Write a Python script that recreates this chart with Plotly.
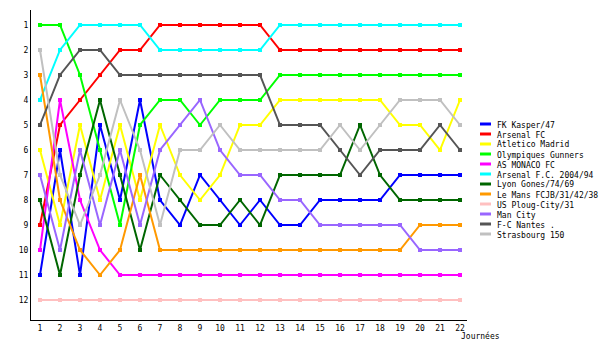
import plotly.graph_objects as go

rounds = list(range(1, 23))
teams = ["FK Kasper/47", "Arsenal FC", "Atletico Madrid", "Olympiques Gunners",
         "AS MONACO FC", "Arsenal F.C. 2004/94", "Lyon Gones/74/69",
         "Le Mans FCJB/31/42/38", "US Ploug-City/31", "Man City", "F-C Nantes .",
         "Strasbourg 150"]
colors = ["#0000FF", "#FF0000", "#FFFF00", "#00FF00", "#FF00FF", "#00FFFF",
          "#006600", "#FF9900", "#FFC0C0", "#9966FF", "#555555", "#C0C0C0"]

fk_kasper = [11, 6, 11, 5, 8, 4, 8, 9, 7, 8, 9, 8, 9, 9, 8, 8, 8, 8, 7, 7, 7, 7]
arsenal_fc = [9, 5, 4, 3, 2, 2, 1, 1, 1, 1, 1, 1, 2, 2, 2, 2, 2, 2, 2, 2, 2, 2]
atletico = [6, 9, 5, 8, 5, 8, 5, 7, 8, 7, 5, 5, 4, 4, 4, 4, 4, 4, 5, 5, 6, 4]
olympiques = [1, 1, 3, 6, 9, 5, 4, 4, 5, 4, 4, 4, 3, 3, 3, 3, 3, 3, 3, 3, 3, 3]
monaco = [10, 4, 8, 10, 11, 11, 11, 11, 11, 11, 11, 11, 11, 11, 11, 11, 11, 11, 11, 11, 11, 11]
arsenal_2004 = [4, 2, 1, 1, 1, 1, 2, 2, 2, 2, 2, 2, 1, 1, 1, 1, 1, 1, 1, 1, 1, 1]
lyon = [8, 11, 7, 4, 7, 10, 7, 8, 9, 9, 8, 9, 7, 7, 7, 7, 5, 7, 8, 8, 8, 8]
le_mans = [3, 8, 10, 11, 10, 7, 10, 10, 10, 10, 10, 10, 10, 10, 10, 10, 10, 10, 10, 9, 9, 9]
ploug = [12] * 22
man_city = [7, 10, 6, 9, 6, 9, 6, 5, 4, 6, 7, 7, 8, 8, 9, 9, 9, 9, 9, 10, 10, 10]
nantes = [5, 3, 2, 2, 3, 3, 3, 3, 3, 3, 3, 3, 5, 5, 5, 6, 7, 6, 6, 6, 5, 6]
strasbourg = [2, 7, 9, 7, 4, 6, 9, 6, 6, 5, 6, 6, 6, 6, 6, 5, 6, 5, 4, 4, 4, 5]

series = [fk_kasper, arsenal_fc, atletico, olympiques, monaco, arsenal_2004,
          lyon, le_mans, ploug, man_city, nantes, strasbourg]

FONT = "DejaVu Sans Mono"
fig = go.Figure()
for name, col, vals in zip(teams, colors, series):
    fig.add_trace(go.Scatter(
        x=rounds, y=vals, name=name, mode="lines+markers",
        line=dict(color=col, width=2),
        marker=dict(color=col, size=4, symbol="square"),
        showlegend=False))

# plot area geometry in pixels
L, R, T, B = 31, 467, 10, 320
def px(x):
    return (x - L) / (R - L)
def py(y):
    return (B - y) / (B - T)

shapes = []
annotations = []
for i, (name, col) in enumerate(zip(teams, colors)):
    yy = 125 + 10 * i
    shapes.append(dict(type="line", xref="paper", yref="paper",
                       x0=px(480), x1=px(491), y0=py(yy - 1), y1=py(yy - 1),
                       line=dict(color=col, width=3)))
    annotations.append(dict(xref="paper", yref="paper", x=px(495), y=py(yy),
                            text=name, showarrow=False, xanchor="left",
                            yanchor="middle",
                            font=dict(family=FONT, size=8, color="black")))
annotations.append(dict(xref="paper", yref="paper", x=px(459), y=py(336),
                        text="Journées", showarrow=False, xanchor="left",
                        yanchor="middle",
                        font=dict(family=FONT, size=8, color="black")))

fig.update_layout(
    width=600, height=350,
    margin=dict(l=L, r=600 - R, t=T, b=350 - B),
    paper_bgcolor="white", plot_bgcolor="white",
    font=dict(family=FONT, size=8, color="black"),
    shapes=shapes, annotations=annotations,
    xaxis=dict(range=[0.55, 22.35], tickmode="array", tickvals=rounds,
               ticktext=[str(r) for r in rounds], showgrid=False,
               zeroline=False, showline=True, linecolor="black", linewidth=1,
               ticks="", tickfont=dict(family=FONT, size=8)),
    yaxis=dict(range=[12.8, 0.4], tickmode="array", tickvals=list(range(1, 13)),
               ticktext=[str(r) for r in range(1, 13)], showgrid=False,
               zeroline=False, showline=True, linecolor="black", linewidth=1,
               ticks="", tickfont=dict(family=FONT, size=8)),
)

fig.write_html("out.html")
